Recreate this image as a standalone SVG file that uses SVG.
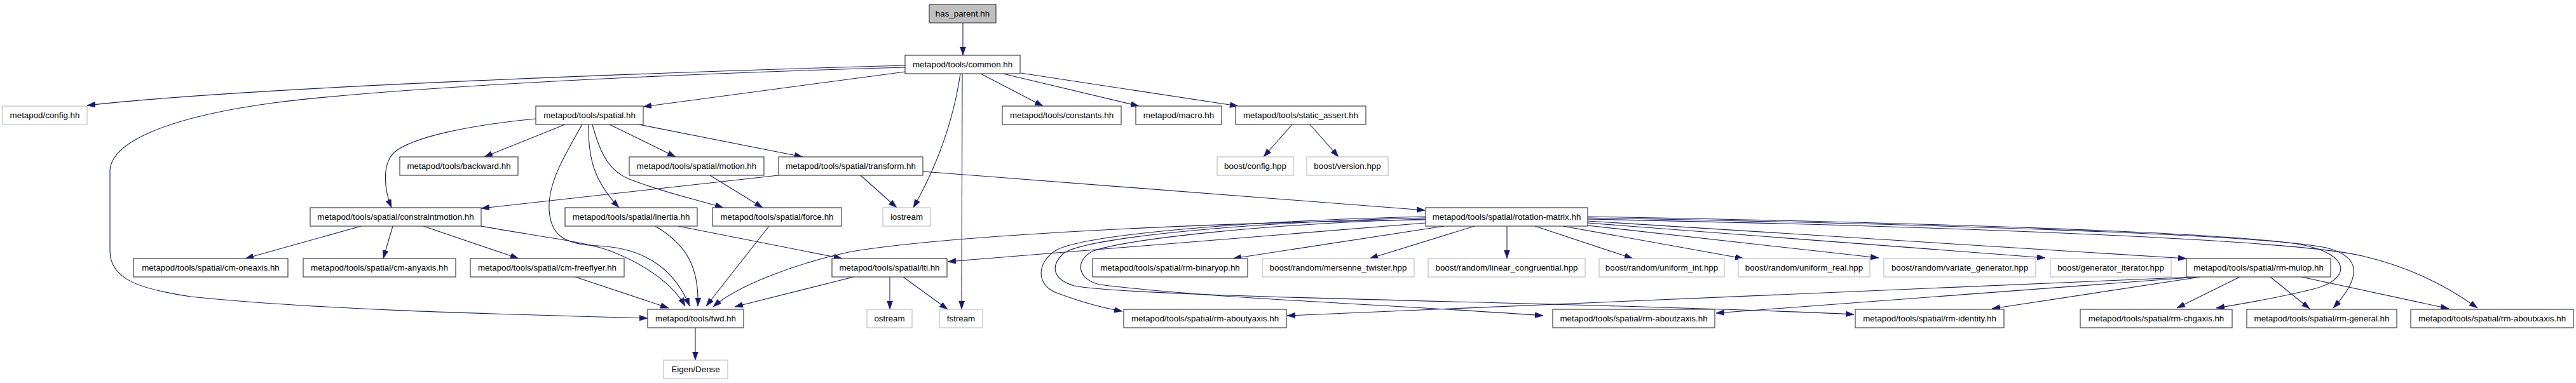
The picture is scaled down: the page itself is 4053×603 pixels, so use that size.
<svg xmlns="http://www.w3.org/2000/svg" width="4053" height="603" viewBox="0 0 4053 603">
<style>
.n rect{fill:#fff;stroke:#404040;stroke-width:1.2}
.g rect{fill:#fff;stroke:#bfbfbf;stroke-width:1.2}
.r rect{fill:#bfbfbf;stroke:#404040;stroke-width:1.2}
text{font-family:"Liberation Sans",Arial,sans-serif;font-size:13.35px;fill:#000;text-anchor:middle}
#edges path{fill:none;stroke:#191970;stroke-width:1.1;marker-end:url(#ah)}
</style>
<defs>
<marker id="ah" markerUnits="userSpaceOnUse" markerWidth="14" markerHeight="10" refX="13" refY="4.5" orient="auto">
<path d="M0,0 L13,4.5 L0,9 z" fill="#191970" stroke="#191970" stroke-width="0.5"/>
</marker>
</defs>
<rect width="4053" height="603" fill="#fff"/>
<g id="edges">
<path d="M1515,36 L1515,87"/>
<path d="M1424,103 C1100,112 400,136 137,166"/>
<path d="M1424,106 C1000,118 600,140 430,162 C260,185 173,225 173,270 L173,395 C173,440 220,455 300,467 C500,488 800,495 1019,501"/>
<path d="M1424,113 L1012,168"/>
<path d="M1543,116 L1641,167"/>
<path d="M1578,116 L1792,167"/>
<path d="M1606,115 L1948,167"/>
<path d="M1511,116 C1500,190 1475,260 1437,327"/>
<path d="M1514,116 L1513,487"/>
<path d="M2033,196 L1988,247"/>
<path d="M2061,196 L2106,247"/>
<path d="M843,187 C740,197 650,215 620,240 C600,260 605,300 616,327"/>
<path d="M889,196 L762,247"/>
<path d="M916,196 C885,250 862,290 864,330 C866,368 885,385 940,387 C1010,390 1060,420 1085,482"/>
<path d="M926,196 C925,250 935,285 974,327"/>
<path d="M932,196 C945,245 960,270 990,282 C1050,305 1100,315 1138,327"/>
<path d="M959,196 L1063,247"/>
<path d="M1005,196 L1263,247"/>
<path d="M1225,276 L757,328"/>
<path d="M1354,276 L1411,327"/>
<path d="M1452,270 L2242,331"/>
<path d="M1117,276 L1200,327"/>
<path d="M568,356 L386,407"/>
<path d="M618,356 L603,407"/>
<path d="M666,356 L816,407"/>
<path d="M757,356 C850,373 920,380 960,395 C1020,418 1060,450 1078,482"/>
<path d="M1031,356 C1080,385 1100,420 1098,482"/>
<path d="M1067,356 L1325,407"/>
<path d="M1210,356 L1111,482"/>
<path d="M905,436 L1052,485"/>
<path d="M1343,436 L1156,483"/>
<path d="M2243,346 C1900,350 1500,370 1340,396 C1250,415 1160,450 1122,483"/>
<path d="M2243,351 L1491,412"/>
<path d="M2272,356 L1940,407"/>
<path d="M2320,356 L2155,407"/>
<path d="M2371,356 L2371,407"/>
<path d="M2415,356 L2569,407"/>
<path d="M2459,356 L2743,407"/>
<path d="M2498,355 L2956,406"/>
<path d="M2498,351 L3218,406"/>
<path d="M2498,348 L3440,407"/>
<path d="M2498,341 C3000,350 3500,365 3620,385 C3700,400 3700,440 3640,455 C3580,470 3530,478 3487,485"/>
<path d="M2498,343 C3000,352 3550,368 3660,390 C3720,405 3712,440 3671,485"/>
<path d="M2498,345 C3000,355 3600,375 3717,403 C3790,420 3850,450 3898,485"/>
<path d="M2243,341 C1950,348 1700,370 1660,395 C1630,415 1630,450 1665,462 C1700,475 1730,484 1766,490"/>
<path d="M2243,343 C1950,350 1700,375 1672,400 C1652,420 1657,440 1690,450 C1800,470 2500,475 2917,495"/>
<path d="M2243,345 C2000,352 1780,375 1720,395 C1690,410 1695,440 1730,448 C1900,470 2200,480 2428,497"/>
<path d="M3455,436 L2025,497"/>
<path d="M3458,436 L2700,493"/>
<path d="M3462,436 L3134,486"/>
<path d="M3524,436 L3425,485"/>
<path d="M3572,436 L3634,486"/>
<path d="M3621,436 L3853,486"/>
<path d="M1400,436 L1400,487"/>
<path d="M1421,436 L1491,487"/>
<path d="M1094,516 L1094,567"/>
</g>
<g id="n_has_parent" class="r"><rect x="1462" y="7" width="105" height="29"/><text x="1514.5" y="26">has_parent.hh</text></g>
<g id="n_common" class="n"><rect x="1424" y="87" width="181" height="29"/><text x="1514.5" y="106">metapod/tools/common.hh</text></g>
<g id="n_config" class="g"><rect x="4" y="167" width="133" height="29"/><text x="70.5" y="186">metapod/config.hh</text></g>
<g id="n_spatial" class="n"><rect x="843" y="167" width="169" height="29"/><text x="927.5" y="186">metapod/tools/spatial.hh</text></g>
<g id="n_constants" class="n"><rect x="1577" y="167" width="187" height="29"/><text x="1670.5" y="186">metapod/tools/constants.hh</text></g>
<g id="n_macro" class="n"><rect x="1787" y="167" width="135" height="29"/><text x="1854.5" y="186">metapod/macro.hh</text></g>
<g id="n_static_assert" class="n"><rect x="1944" y="167" width="205" height="29"/><text x="2046.5" y="186">metapod/tools/static_assert.hh</text></g>
<g id="n_backward" class="n"><rect x="629" y="247" width="186" height="29"/><text x="722" y="266">metapod/tools/backward.hh</text></g>
<g id="n_motion" class="n"><rect x="990" y="247" width="212" height="29"/><text x="1096" y="266">metapod/tools/spatial/motion.hh</text></g>
<g id="n_transform" class="n"><rect x="1225" y="247" width="227" height="29"/><text x="1338.5" y="266">metapod/tools/spatial/transform.hh</text></g>
<g id="n_boost_config" class="g"><rect x="1915" y="247" width="120" height="29"/><text x="1975" y="266">boost/config.hpp</text></g>
<g id="n_version" class="g"><rect x="2056" y="247" width="128" height="29"/><text x="2120" y="266">boost/version.hpp</text></g>
<g id="n_constraintmotion" class="n"><rect x="488" y="327" width="269" height="29"/><text x="622.5" y="346">metapod/tools/spatial/constraintmotion.hh</text></g>
<g id="n_inertia" class="n"><rect x="889" y="327" width="208" height="29"/><text x="993" y="346">metapod/tools/spatial/inertia.hh</text></g>
<g id="n_force" class="n"><rect x="1121" y="327" width="203" height="29"/><text x="1222.5" y="346">metapod/tools/spatial/force.hh</text></g>
<g id="n_iostream" class="g"><rect x="1389" y="327" width="75" height="29"/><text x="1426.5" y="346">iostream</text></g>
<g id="n_rotation" class="n"><rect x="2243" y="327" width="255" height="29"/><text x="2370.5" y="346">metapod/tools/spatial/rotation-matrix.hh</text></g>
<g id="n_cm_oneaxis" class="n"><rect x="210" y="407" width="243" height="29"/><text x="331.5" y="426">metapod/tools/spatial/cm-oneaxis.hh</text></g>
<g id="n_cm_anyaxis" class="n"><rect x="477" y="407" width="240" height="29"/><text x="597" y="426">metapod/tools/spatial/cm-anyaxis.hh</text></g>
<g id="n_cm_freeflyer" class="n"><rect x="740" y="407" width="242" height="29"/><text x="861" y="426">metapod/tools/spatial/cm-freeflyer.hh</text></g>
<g id="n_lti" class="n"><rect x="1309" y="407" width="181" height="29"/><text x="1399.5" y="426">metapod/tools/spatial/lti.hh</text></g>
<g id="n_binaryop" class="n"><rect x="1719" y="407" width="244" height="29"/><text x="1841" y="426">metapod/tools/spatial/rm-binaryop.hh</text></g>
<g id="n_mersenne" class="g"><rect x="1986" y="407" width="239" height="29"/><text x="2105.5" y="426">boost/random/mersenne_twister.hpp</text></g>
<g id="n_linear" class="g"><rect x="2247" y="407" width="247" height="29"/><text x="2370.5" y="426">boost/random/linear_congruential.hpp</text></g>
<g id="n_uniform_int" class="g"><rect x="2516" y="407" width="197" height="29"/><text x="2614.5" y="426">boost/random/uniform_int.hpp</text></g>
<g id="n_uniform_real" class="g"><rect x="2735" y="407" width="207" height="29"/><text x="2838.5" y="426">boost/random/uniform_real.hpp</text></g>
<g id="n_variate" class="g"><rect x="2964" y="407" width="239" height="29"/><text x="3083.5" y="426">boost/random/variate_generator.hpp</text></g>
<g id="n_generator" class="g"><rect x="3226" y="407" width="190" height="29"/><text x="3321" y="426">boost/generator_iterator.hpp</text></g>
<g id="n_mulop" class="n"><rect x="3440" y="407" width="227" height="29"/><text x="3553.5" y="426">metapod/tools/spatial/rm-mulop.hh</text></g>
<g id="n_fwd" class="n"><rect x="1019" y="487" width="151" height="29"/><text x="1094.5" y="506">metapod/tools/fwd.hh</text></g>
<g id="n_ostream" class="g"><rect x="1364" y="487" width="71" height="29"/><text x="1399.5" y="506">ostream</text></g>
<g id="n_fstream" class="g"><rect x="1478" y="487" width="68" height="29"/><text x="1512" y="506">fstream</text></g>
<g id="n_aboutyaxis" class="n"><rect x="1768" y="487" width="256" height="29"/><text x="1896" y="506">metapod/tools/spatial/rm-aboutyaxis.hh</text></g>
<g id="n_aboutzaxis" class="n"><rect x="2443" y="487" width="255" height="29"/><text x="2570.5" y="506">metapod/tools/spatial/rm-aboutzaxis.hh</text></g>
<g id="n_identity" class="n"><rect x="2919" y="487" width="234" height="29"/><text x="3036" y="506">metapod/tools/spatial/rm-identity.hh</text></g>
<g id="n_chgaxis" class="n"><rect x="3273" y="487" width="239" height="29"/><text x="3392.5" y="506">metapod/tools/spatial/rm-chgaxis.hh</text></g>
<g id="n_general" class="n"><rect x="3535" y="487" width="236" height="29"/><text x="3653" y="506">metapod/tools/spatial/rm-general.hh</text></g>
<g id="n_aboutxaxis" class="n"><rect x="3793" y="487" width="256" height="29"/><text x="3921" y="506">metapod/tools/spatial/rm-aboutxaxis.hh</text></g>
<g id="n_eigen" class="g"><rect x="1044" y="567" width="101" height="29"/><text x="1094.5" y="586">Eigen/Dense</text></g>
</svg>
